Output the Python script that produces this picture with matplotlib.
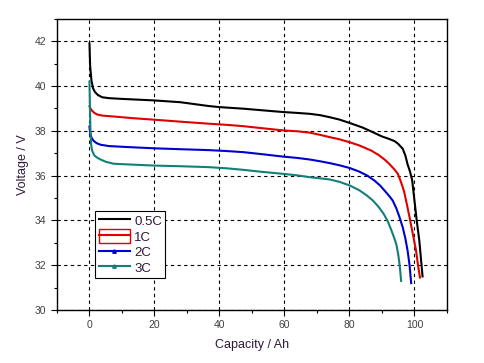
import matplotlib
matplotlib.use('Agg')
import matplotlib.pyplot as pl
from matplotlib.patches import Rectangle
from matplotlib.lines import Line2D
from matplotlib.ticker import MultipleLocator

pl.rcParams['font.family'] = ['Liberation Sans', 'DejaVu Sans']

# discharge curves (capacity Ah, voltage V)
x_05c = [0, 0.2, 0.6, 1.1, 1.7, 2.6, 3.9, 6, 9.5, 19.7, 27.9, 32, 36.6, 40, 47.3,
         53, 59.6, 64, 67.8, 71, 73.9, 77, 80.1, 84, 87.2, 90, 92, 93.9, 95,
         96.4, 97.2, 97.9, 98.6, 99.3, 100.0, 100.7, 101.5, 102, 102.5]
y_05c = [41.9, 40.9, 40.25, 39.9, 39.73, 39.6, 39.5, 39.46, 39.43, 39.36, 39.28,
         39.2, 39.11, 39.06, 38.99, 38.92, 38.84, 38.8, 38.76, 38.7, 38.61, 38.5,
         38.35, 38.15, 37.94, 37.75, 37.65, 37.54, 37.42, 37.2, 36.9, 36.5, 36.2,
         35.8, 34.9, 34.0, 33.1, 32.3, 31.5]

x_1c = [0, 0.3, 0.8, 1.5, 2.4, 4, 7.5, 13, 19.7, 28, 36.6, 42, 47.3, 53, 59.6,
        64, 67.8, 71, 73.9, 77, 80.1, 83, 86.7, 89, 90.8, 92.3, 93.7, 94.9,
        95.9, 96.8, 97.7, 98.5, 99.5, 100.5, 101.1, 101.7]
y_1c = [39.1, 39.0, 38.9, 38.8, 38.73, 38.68, 38.64, 38.57, 38.5, 38.41, 38.32,
        38.27, 38.21, 38.12, 38.02, 37.98, 37.92, 37.82, 37.72, 37.62, 37.49,
        37.35, 37.12, 36.92, 36.72, 36.52, 36.3, 36.08, 35.7, 35.3, 34.7, 34.14,
        33.4, 32.65, 32.0, 31.45]

x_2c = [0, 0.2, 0.6, 1.3, 2.2, 3.4, 6, 12.6, 20, 28, 36.6, 42, 47.3, 53, 59.6,
        64, 67.8, 71, 73.9, 77, 80.1, 83, 85.5, 87.7, 89.5, 91, 92.3, 93.3,
        94.4, 95.4, 96.4, 97.2, 97.9, 98.5, 99.0]
y_2c = [38.2, 37.9, 37.7, 37.55, 37.45, 37.38, 37.32, 37.27, 37.22, 37.18, 37.14,
        37.1, 37.05, 36.96, 36.85, 36.79, 36.72, 36.64, 36.56, 36.46, 36.34,
        36.18, 36.0, 35.78, 35.55, 35.3, 35.08, 34.89, 34.55, 34.15, 33.69,
        33.2, 32.65, 32.0, 31.2]

x_3c = [0, 0.15, 0.3, 0.5, 0.8, 1.5, 2.4, 3.4, 5, 7.5, 12, 19.7, 28, 36.6, 42,
        47.3, 53, 59.6, 64, 67.8, 71, 73.9, 77, 80.1, 83, 85.3, 87.2, 89, 90.5,
        91.8, 92.8, 93.7, 94.4, 95.0, 95.5, 95.9]
y_3c = [40.2, 39.0, 38.0, 37.4, 37.12, 36.9, 36.8, 36.72, 36.62, 36.53, 36.5,
        36.45, 36.42, 36.38, 36.33, 36.26, 36.17, 36.08, 36.01, 35.93, 35.88,
        35.83, 35.72, 35.56, 35.35, 35.12, 34.89, 34.6, 34.3, 33.96, 33.6, 33.25,
        32.95, 32.5, 31.95, 31.3]

labels = ['0.5C', '1C', '2C', '3C']
colors = ['black', '#e00000', '#0000d0', '#128078']

fig = pl.figure(figsize=(4.85, 3.63), dpi=100)
ax = fig.add_axes([0.1175, 0.146, 0.804, 0.802])

lw = 1.5
ax.plot(x_05c, y_05c, color=colors[0], lw=lw)
ax.plot(x_1c, y_1c, color=colors[1], lw=lw)
ax.plot(x_2c, y_2c, color=colors[2], lw=lw)
ax.plot(x_3c, y_3c, color=colors[3], lw=lw)

ax.set_xlim(-10, 110)
ax.set_ylim(30, 43)
ax.xaxis.set_major_locator(MultipleLocator(20))
ax.xaxis.set_minor_locator(MultipleLocator(10))
ax.yaxis.set_major_locator(MultipleLocator(2))
ax.yaxis.set_minor_locator(MultipleLocator(1))
ax.tick_params(which='major', direction='out', length=4, width=0.8,
               labelsize=7.5, labelcolor='#404040')
ax.tick_params(which='minor', direction='out', length=2.5, width=0.8)
ax.grid(True, which='major', color='black', linestyle=(0, (3, 3)), linewidth=0.8)
for s in ax.spines.values():
    s.set_linewidth(1.0)

ax.set_xlabel('Capacity / Ah', fontsize=9, color='#301838', labelpad=6)
ax.set_ylabel('Voltage / V', fontsize=9, color='#301838', labelpad=4)

# legend handles: 1C drawn as outlined box with line through
h0 = Line2D([], [], color=colors[0], lw=lw)
h1 = (Rectangle((0, 0), 1, 1, facecolor='none', edgecolor=colors[1], lw=1.0),
      Line2D([], [], color=colors[1], lw=lw))
h2 = Line2D([], [], color=colors[2], lw=lw, marker='^', markersize=2.5)
h3 = Line2D([], [], color=colors[3], lw=lw, marker='^', markersize=2.5)
leg = ax.legend([h0, h1, h2, h3], labels, loc='lower left',
                bbox_to_anchor=(0.098, 0.11), fontsize=9.5, frameon=True,
                fancybox=False, framealpha=1, edgecolor='black',
                handlelength=2.4, handleheight=1.2, labelspacing=0.1,
                borderpad=0.25, handletextpad=0.3, borderaxespad=0)
leg.get_frame().set_linewidth(0.8)
for t in leg.get_texts():
    t.set_color('#301838')

fig.savefig('out.png', dpi=100)
